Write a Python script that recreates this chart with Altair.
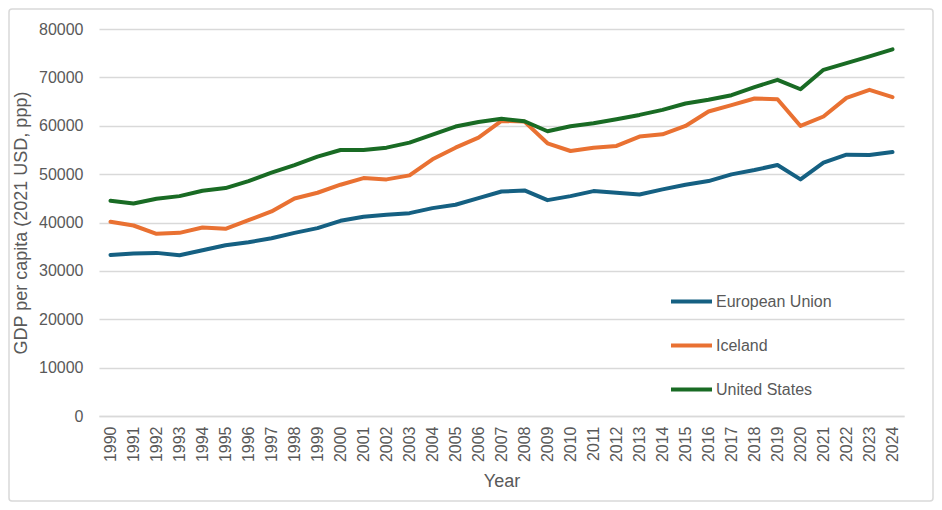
import altair as alt
import pandas as pd

years = list(range(1990, 2025))

eu = [33300, 33570, 33720, 33230, 34260, 35300, 35920, 36750, 37860, 38830,
      40350, 41180, 41590, 41930, 42970, 43660, 45040, 46400, 46630, 44620,
      45450, 46490, 46150, 45800, 46840, 47810, 48560, 49950, 50840, 51880,
      48910, 52370, 54030, 53950, 54570]

iceland = [40140, 39380, 37650, 37860, 38960, 38690, 40480, 42280, 44970, 46150,
           47810, 49180, 48910, 49740, 53060, 55470, 57550, 61000, 60860, 56370,
           54780, 55470, 55820, 57760, 58240, 59960, 62940, 64250, 65630, 65490,
           59960, 61910, 65770, 67430, 65910]

us = [44500, 43940, 44900, 45450, 46570, 47110, 48560, 50300, 51880, 53610,
      54990, 54990, 55470, 56510, 58170, 59830, 60790, 61450, 60930, 58860,
      59890, 60520, 61350, 62240, 63280, 64600, 65370, 66320, 67980, 69500,
      67550, 71560, 72950, 74340, 75790]

series_names = ["European Union", "Iceland", "United States"]
series_colors = ["#156082", "#E97132", "#196B24"]

rows = []
for name, vals in zip(series_names, [eu, iceland, us]):
    for y, v in zip(years, vals):
        rows.append({"Year": str(y), "Value": v, "Series": name})
df = pd.DataFrame(rows)

FONT = "Liberation Sans"
GRAY = "#595959"

lines = alt.Chart(df).mark_line(strokeWidth=4, strokeCap="round", strokeJoin="round").encode(
    x=alt.X("Year:O", title="Year",
            scale=alt.Scale(type="point", padding=0.5),
            axis=alt.Axis(labelAngle=270, labelPadding=10, titlePadding=11,
                          ticks=False, domain=True, domainColor="#d9d9d9",
                          domainWidth=1.5, grid=False, titleFontSize=18)),
    y=alt.Y("Value:Q", title="GDP per capita (2021 USD, ppp)",
            scale=alt.Scale(domain=[0, 80000], nice=False),
            axis=alt.Axis(values=[0, 10000, 20000, 30000, 40000, 50000, 60000, 70000, 80000],
                          format="d", ticks=False, domain=False, labelPadding=16,
                          titlePadding=8, grid=True, gridColor="#d9d9d9", gridWidth=1.5,
                          titleFontSize=18)),
    color=alt.Color("Series:N", title=None,
                    scale=alt.Scale(domain=series_names, range=series_colors),
                    legend=alt.Legend(orient="none", legendX=570, legendY=250,
                                      symbolType="stroke", symbolSize=1681,
                                      symbolStrokeWidth=4, labelFontSize=16,
                                      labelColor=GRAY, labelFont=FONT,
                                      labelOffset=2, rowPadding=13,
                                      symbolOffset=0)),
)

frame = alt.Chart(pd.DataFrame({"k": [0]})).mark_rect(
    fill=None, stroke="#d9d9d9", strokeWidth=1.5, cornerRadius=3
).encode(
    x=alt.value(-90), x2=alt.value(834), y=alt.value(-20), y2=alt.value(472)
)

chart = alt.layer(frame, lines).properties(
    width=805, height=387,
    autosize=alt.AutoSizeParams(type="none"),
    padding={"left": 91, "top": 21, "right": 30, "bottom": 86},
    background="white",
).configure_view(stroke=None).configure_axis(
    labelFont=FONT, labelColor=GRAY, labelFontSize=16,
    titleFont=FONT, titleColor=GRAY, titleFontWeight="normal",
)

chart.save("out.html", embed_options={"renderer": "svg", "actions": False})
